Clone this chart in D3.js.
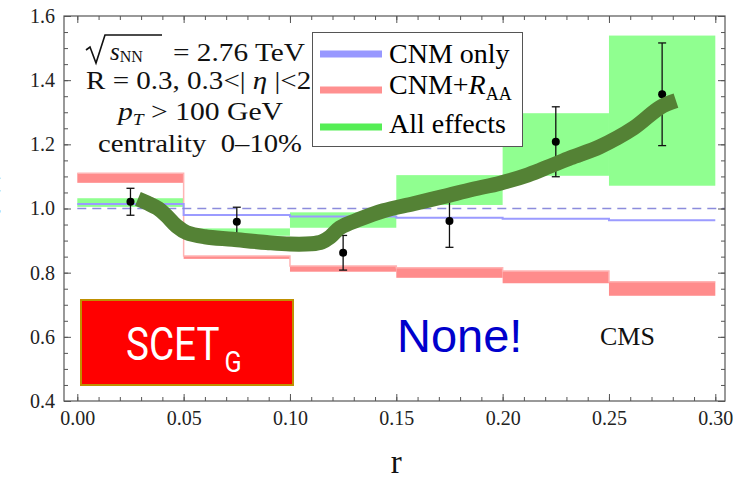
<!DOCTYPE html>
<html>
<head>
<meta charset="utf-8">
<script src="https://cdn.jsdelivr.net/npm/d3@7"></script>
<style>
body { margin: 0; background: #fff; }
svg { display: block; font-family: "Liberation Serif", "Times New Roman", serif; }
</style>
</head>
<body>
<svg id="chart"></svg>
<script>
// bin edges in r
var binEdges = [0, 0.05, 0.10, 0.15, 0.20, 0.25, 0.30]

// CNM only (thin blue steps)
var cnmOnly = [1.014, 0.980, 0.975, 0.971, 0.968, 0.963]

// CNM + R_AA band (red)
var cnmRaaLow  = [1.080, 0.843, 0.803, 0.784, 0.767, 0.728]
var cnmRaaHigh = [1.110, 0.852, 0.821, 0.815, 0.805, 0.772]

// all effects band (green)
var allLow  = [1.005, 0.915, 0.940, 1.011, 1.102, 1.071]
var allHigh = [1.032, 0.938, 0.988, 1.104, 1.297, 1.539]

// CMS points
var cmsR   = [0.025, 0.075, 0.125, 0.175, 0.225, 0.275]
var cmsV   = [1.021, 0.959, 0.862, 0.961, 1.208, 1.356]
var cmsErr = [0.042, 0.045, 0.054, 0.082, 0.109, 0.160]

// hand drawn thick curve
var curveR = [0.0285, 0.033, 0.038, 0.042, 0.0467, 0.0514, 0.060, 0.073, 0.089, 0.100, 0.110, 0.115, 0.119, 0.1235, 0.1329, 0.1439, 0.158, 0.172, 0.186, 0.1988, 0.212, 0.2223, 0.232, 0.2458, 0.2614, 0.274, 0.2815]
var curveV = [1.030, 1.017, 1.000, 0.977, 0.945, 0.925, 0.912, 0.904, 0.894, 0.889, 0.890, 0.896, 0.912, 0.940, 0.967, 0.993, 1.015, 1.037, 1.060, 1.079, 1.105, 1.132, 1.158, 1.193, 1.250, 1.315, 1.336]

// ticks
var xTicks = [0, 0.05, 0.10, 0.15, 0.20, 0.25, 0.30]
var xTickLabels = ["0.00", "0.05", "0.10", "0.15", "0.20", "0.25", "0.30"]
var yTicks = [0.4, 0.6, 0.8, 1.0, 1.2, 1.4, 1.6]
var yTickLabels = ["0.4", "0.6", "0.8", "1.0", "1.2", "1.4", "1.6"]

var frame = {left: 64, right: 725, top: 16, bottom: 401}

const svg = d3.select("#chart")
    .attr("width", 733)
    .attr("height", 479)

const x = d3.scaleLinear()
    .domain([0, 0.3])
    .range([77.3, 715.3])

const y = d3.scaleLinear()
    .domain([0.4, 1.6])
    .range([frame.bottom, frame.top])

var bins = d3.range(cnmOnly.length).map(function (i) {
    return {x0: binEdges[i], x1: binEdges[i + 1], blue: cnmOnly[i],
        rLo: cnmRaaLow[i], rHi: cnmRaaHigh[i], gLo: allLow[i], gHi: allHigh[i]}
})

// green bands
svg.selectAll("rect.green")
    .data(bins)
    .enter()
    .append("rect")
        .attr("class", "green")
        .attr("x", (d) => x(d.x0))
        .attr("width", (d) => x(d.x1) - x(d.x0))
        .attr("y", (d) => y(d.gHi))
        .attr("height", (d) => y(d.gLo) - y(d.gHi))
        .attr("fill", "#90ff90")

// red bands
svg.selectAll("rect.red")
    .data(bins)
    .enter()
    .append("rect")
        .attr("class", "red")
        .attr("x", (d) => x(d.x0))
        .attr("width", (d) => x(d.x1) - x(d.x0))
        .attr("y", (d) => y(d.rHi))
        .attr("height", (d) => y(d.rLo) - y(d.rHi))
        .attr("fill", "#ff8c8c")

// thin step lines
var stepPts = function (key) {
    var pts = bins.map((d) => [d.x0, d[key]])
    pts.push([binEdges[binEdges.length - 1], bins[bins.length - 1][key]])
    return pts
}
var stepLine = d3.line()
    .x((d) => x(d[0]))
    .y((d) => y(d[1]))
    .curve(d3.curveStepAfter)

svg.append("path")
    .attr("d", stepLine(stepPts("rHi")))
    .attr("fill", "none")
    .attr("stroke", "#ffb4b4")
    .attr("stroke-width", 1.5)

svg.append("path")
    .attr("d", stepLine(stepPts("blue")))
    .attr("fill", "none")
    .attr("stroke", "#9b9bff")
    .attr("stroke-width", 2)

// dashed line at 1
svg.append("line")
    .attr("x1", x(0))
    .attr("x2", frame.right)
    .attr("y1", y(1))
    .attr("y2", y(1))
    .attr("stroke", "#8c8cdc")
    .attr("stroke-width", 1.5)
    .attr("stroke-dasharray", "9,6")

// CMS points with error bars
var pts = cmsR.map((r, i) => ({r: r, v: cmsV[i], e: cmsErr[i]}))
var errG = svg.append("g")
    .attr("stroke", "#111")
    .attr("stroke-width", 1.3)
errG.selectAll("line.bar")
    .data(pts)
    .enter()
    .append("line")
        .attr("x1", (d) => x(d.r))
        .attr("x2", (d) => x(d.r))
        .attr("y1", (d) => y(d.v + d.e))
        .attr("y2", (d) => y(d.v - d.e))
errG.selectAll("line.capTop")
    .data(pts)
    .enter()
    .append("line")
        .attr("x1", (d) => x(d.r) - 4)
        .attr("x2", (d) => x(d.r) + 4)
        .attr("y1", (d) => y(d.v + d.e))
        .attr("y2", (d) => y(d.v + d.e))
errG.selectAll("line.capBot")
    .data(pts)
    .enter()
    .append("line")
        .attr("x1", (d) => x(d.r) - 4)
        .attr("x2", (d) => x(d.r) + 4)
        .attr("y1", (d) => y(d.v - d.e))
        .attr("y2", (d) => y(d.v - d.e))
svg.selectAll("circle.cms")
    .data(pts)
    .enter()
    .append("circle")
        .attr("cx", (d) => x(d.r))
        .attr("cy", (d) => y(d.v))
        .attr("r", 4)
        .attr("fill", "#000")

// thick green curve
svg.append("path")
    .datum(curveR.map((r, i) => [r, curveV[i]]))
    .attr("fill", "none")
    .attr("stroke", "#548235")
    .attr("stroke-width", 15)
    .attr("stroke-linejoin", "round")
    .attr("d", d3.line()
        .x((d) => x(d[0]))
        .y((d) => y(d[1]))
        .curve(d3.curveCatmullRom)
    )

// axes
var styleAxis = function (g) {
    g.select(".domain").remove()
    g.selectAll("line").attr("stroke", "#555")
    g.attr("font-family", null).attr("font-size", 20)
    g.selectAll("text").attr("fill", "#222")
}

svg.append("g")
    .attr("transform", `translate(0, ${frame.bottom})`)
    .call(d3.axisBottom(x).tickValues(xTicks).tickSize(-7).tickPadding(10)
        .tickFormat((d, i) => xTickLabels[i]))
    .call(styleAxis)
svg.append("g")
    .attr("transform", `translate(0, ${frame.bottom})`)
    .call(d3.axisBottom(x).ticks(30).tickSize(-4).tickFormat(""))
    .call(styleAxis)
svg.append("g")
    .attr("transform", `translate(0, ${frame.top})`)
    .call(d3.axisTop(x).tickValues(xTicks).tickSize(-7).tickFormat(""))
    .call(styleAxis)
svg.append("g")
    .attr("transform", `translate(0, ${frame.top})`)
    .call(d3.axisTop(x).ticks(30).tickSize(-4).tickFormat(""))
    .call(styleAxis)

svg.append("g")
    .attr("transform", `translate(${frame.left}, 0)`)
    .call(d3.axisLeft(y).tickValues(yTicks).tickSize(-7).tickPadding(9)
        .tickFormat((d, i) => yTickLabels[i]))
    .call(styleAxis)
svg.append("g")
    .attr("transform", `translate(${frame.left}, 0)`)
    .call(d3.axisLeft(y).ticks(24).tickSize(-4).tickFormat(""))
    .call(styleAxis)
svg.append("g")
    .attr("transform", `translate(${frame.right}, 0)`)
    .call(d3.axisRight(y).tickValues(yTicks).tickSize(-7).tickFormat(""))
    .call(styleAxis)
svg.append("g")
    .attr("transform", `translate(${frame.right}, 0)`)
    .call(d3.axisRight(y).ticks(24).tickSize(-4).tickFormat(""))
    .call(styleAxis)

// frame
svg.append("rect")
    .attr("x", frame.left)
    .attr("y", frame.top)
    .attr("width", frame.right - frame.left)
    .attr("height", frame.bottom - frame.top)
    .attr("fill", "none")
    .attr("stroke", "#555")
    .attr("stroke-width", 1.2)

// axis titles
svg.append("text")
    .attr("x", x(0.15))
    .attr("y", 473)
    .attr("text-anchor", "middle")
    .attr("font-size", 33)
    .attr("fill", "#111")
    .text("r")

// y title, mostly cut off at the left edge as in the original
svg.append("text")
    .attr("transform", "translate(-6, 192) rotate(-90)")
    .attr("text-anchor", "middle")
    .attr("font-size", 30)
    .attr("fill", "#111")
    .text("ρ(r)")

// info text top left
var info = svg.append("g").attr("fill", "#111")
info.append("path")
    .attr("d", "M86,50 L90,47 L96,63 L105,35 L162,35")
    .attr("fill", "none")
    .attr("stroke", "#111")
    .attr("stroke-width", 1.6)
var l1 = info.append("text").attr("x", 110).attr("y", 60).attr("font-size", 25)
l1.append("tspan").attr("font-style", "italic").text("s")
l1.append("tspan").attr("font-size", 16).attr("dy", 2).text("NN")
info.append("text")
    .attr("x", 173)
    .attr("y", 61)
    .attr("font-size", 26)
    .attr("textLength", 132)
    .attr("lengthAdjust", "spacingAndGlyphs")
    .text("= 2.76 TeV")

var l2 = info.append("text").attr("x", 86).attr("y", 89).attr("font-size", 25)
    .attr("textLength", 247)
    .attr("lengthAdjust", "spacingAndGlyphs")
l2.append("tspan").text("R = 0.3, 0.3<| ")
l2.append("tspan").attr("font-style", "italic").text("η")
l2.append("tspan").text(" |<2.5")

var l3 = info.append("text").attr("x", 118).attr("y", 120).attr("font-size", 26)
    .attr("textLength", 165)
    .attr("lengthAdjust", "spacingAndGlyphs")
l3.append("tspan").attr("font-style", "italic").text("p")
l3.append("tspan").attr("font-style", "italic").attr("font-size", 17).attr("dy", 5).text("T")
l3.append("tspan").attr("dy", -5).text(" > 100 GeV")

info.append("text")
    .attr("x", 98)
    .attr("y", 152)
    .attr("font-size", 26)
    .attr("textLength", 204)
    .attr("lengthAdjust", "spacingAndGlyphs")
    .attr("xml:space", "preserve")
    .text("centrality  0\u201310%")

// legend
var legend = svg.append("g")
legend.append("rect")
    .attr("x", 312.5)
    .attr("y", 32.5)
    .attr("width", 210)
    .attr("height", 114)
    .attr("fill", "#fff")
    .attr("stroke", "#555")
    .attr("stroke-width", 1)

var legItems = [
    {color: "#9898ff", y: 54},
    {color: "#ff9090", y: 90},
    {color: "#55ee55", y: 127}
]
legend.selectAll("line.key")
    .data(legItems)
    .enter()
    .append("line")
        .attr("x1", 320)
        .attr("x2", 382)
        .attr("y1", (d) => d.y)
        .attr("y2", (d) => d.y)
        .attr("stroke", (d) => d.color)
        .attr("stroke-width", 7)

legend.append("text").attr("x", 389).attr("y", 63).attr("font-size", 28).text("CNM only")
var lr = legend.append("text").attr("x", 389).attr("y", 94).attr("font-size", 28)
lr.append("tspan").text("CNM+")
lr.append("tspan").attr("font-style", "italic").text("R")
lr.append("tspan").attr("font-size", 18).attr("dy", 6).text("AA")
legend.append("text").attr("x", 389).attr("y", 133).attr("font-size", 28).text("All effects")

// SCET_G box
svg.append("rect")
    .attr("x", 81)
    .attr("y", 300)
    .attr("width", 212)
    .attr("height", 85)
    .attr("fill", "#ff0000")
    .attr("stroke", "#bf9000")
    .attr("stroke-width", 2)
var scet = svg.append("text")
    .attr("transform", "translate(126, 360) scale(0.84, 1)")
    .attr("font-family", "Roboto, 'Liberation Sans', sans-serif")
    .attr("font-size", 46)
    .attr("fill", "#fff")
scet.append("tspan").text("SCET")
scet.append("tspan").attr("font-size", 30).attr("dx", 6).attr("dy", 12).text("G")

svg.append("text")
    .attr("x", 397)
    .attr("y", 352)
    .attr("font-family", "'Liberation Sans', Arial, sans-serif")
    .attr("font-size", 47)
    .attr("fill", "#0000cc")
    .text("None!")

svg.append("text")
    .attr("x", 600)
    .attr("y", 345)
    .attr("font-size", 26)
    .attr("fill", "#111")
    .text("CMS")
</script>
</body>
</html>
